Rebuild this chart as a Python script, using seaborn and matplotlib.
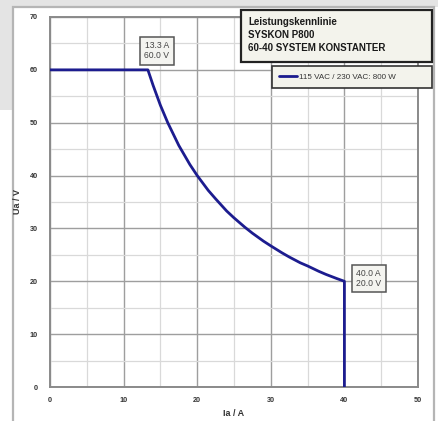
import matplotlib
matplotlib.use("Agg")
import matplotlib.pyplot as plt
from matplotlib.patches import Rectangle
from matplotlib.ticker import MultipleLocator
import seaborn as sns
import pandas as pd

# --- data ---
current_a = [0, 13.3, 14.0, 15.0, 16.0, 17.5, 19.0, 20.0, 21.5, 22.5, 24.0, 25.0,
             26.5, 27.5, 29.0, 30.0, 31.5, 32.5, 34.0, 35.0, 36.5, 37.5, 39.0, 40.0, 40.0]
voltage_v = [60.0, 60.0, 57.1, 53.3, 50.0, 45.7, 42.1, 40.0, 37.2, 35.6, 33.3, 32.0,
             30.2, 29.1, 27.6, 26.7, 25.4, 24.6, 23.5, 22.9, 21.9, 21.3, 20.5, 20.0, 0.0]
series_label = "115 VAC / 230 VAC: 800 W"
title_lines = ["Leistungskennlinie", "SYSKON P800", "60-40 SYSTEM KONSTANTER"]
point_labels = [(13.3, 60.0), (40.0, 20.0)]
x_ticks = [0, 10, 20, 30, 40, 50]
y_ticks = [0, 10, 20, 30, 40, 50, 60, 70]

df = pd.DataFrame({"Ia": current_a, "Ua": voltage_v, "series": series_label})

sns.set_theme(style="white")
plt.rcParams["font.family"] = ["Liberation Sans", "DejaVu Sans"]

W, H = 438, 421
fig = plt.figure(figsize=(W / 100, H / 100), dpi=100)
fig.patch.set_facecolor("white")

def fx(px):
    return px / W

def fy(py):
    return 1 - py / H

# background strips and panel frame
fig.patches.append(Rectangle((0, fy(7)), 1, 7 / H, transform=fig.transFigure,
                             facecolor="#e4e4e4", edgecolor="none", zorder=-10))
fig.patches.append(Rectangle((0, fy(110)), fx(13), 103 / H, transform=fig.transFigure,
                             facecolor="#e4e4e4", edgecolor="none", zorder=-10))
fig.patches.append(Rectangle((fx(13), fy(425)), fx(434) - fx(13), (425 - 7) / H,
                             transform=fig.transFigure, facecolor="white",
                             edgecolor="#b5b5b5", linewidth=1.6, zorder=-9))

ax = fig.add_axes([fx(50), fy(387), fx(418) - fx(50), (387 - 17) / H])
ax.set_facecolor("white")

sns.lineplot(data=df, x="Ia", y="Ua", hue="series", palette=["#1c1c8f"],
             sort=False, estimator=None, linewidth=2.0, ax=ax, zorder=3)

ax.set_xlim(0, 50)
ax.set_ylim(0, 70)
ax.set_xticks(x_ticks)
ax.set_yticks(y_ticks)
ax.xaxis.set_minor_locator(MultipleLocator(5))
ax.yaxis.set_minor_locator(MultipleLocator(5))
ax.grid(which="major", color="#9e9e9e", linewidth=1.0)
ax.grid(which="minor", color="#d9d9d9", linewidth=0.9)
ax.set_axisbelow(True)
for s in ax.spines.values():
    s.set_color("#8a8a8a")
    s.set_linewidth(1.4)
ax.tick_params(axis="both", which="both", length=0, labelsize=5.2, labelcolor="#333333")
ax.tick_params(axis="x", pad=7)
ax.tick_params(axis="y", pad=9)
for lab in ax.get_xticklabels() + ax.get_yticklabels():
    lab.set_fontweight("bold")
ax.set_xlabel("Ia / A", fontsize=6.5, fontweight="bold", color="#333333", labelpad=4)
ax.set_ylabel("Ua / V", fontsize=6.5, fontweight="bold", color="#333333", labelpad=5)

# point annotations
offsets = [(1.2, 3.6), (3.3, 0.5)]
for (px, py), (dx, dy) in zip(point_labels, offsets):
    ax.text(px + dx, py + dy, f"{px:.1f} A\n{py:.1f} V", fontsize=6.2,
            ha="center", va="center", color="#444444", linespacing=1.15, zorder=5,
            bbox=dict(boxstyle="square,pad=0.5", facecolor="#f4f4f0",
                      edgecolor="#555555", linewidth=1.1))

# title box
fig.patches.append(Rectangle((fx(241), fy(62)), fx(432) - fx(241), (62 - 10) / H,
                             transform=fig.transFigure, facecolor="#f3f3ec",
                             edgecolor="#222222", linewidth=1.6, zorder=6))
for i, t in enumerate(title_lines):
    fig.text(fx(248), fy(22 + 13 * i), t, fontsize=7, fontweight="bold",
             ha="left", va="center", color="#1a1a1a", zorder=7)

# legend box
handles, labels = ax.get_legend_handles_labels()
if ax.legend_:
    ax.legend_.remove()
leg = fig.legend(handles, labels, loc="center", mode="expand",
                 bbox_to_anchor=(fx(272), fy(92), fx(432) - fx(272), 30 / H),
                 frameon=True, fancybox=False, fontsize=5.8, handlelength=2.2,
                 handletextpad=0.2, borderpad=0.9, borderaxespad=0)
leg.get_frame().set_facecolor("#f3f3ec")
leg.get_frame().set_edgecolor("#333333")
leg.get_frame().set_linewidth(1.2)
leg.get_frame().set_alpha(1)
leg.set_zorder(8)
for t in leg.get_texts():
    t.set_color("#333333")

fig.savefig("out.png", dpi=100)
